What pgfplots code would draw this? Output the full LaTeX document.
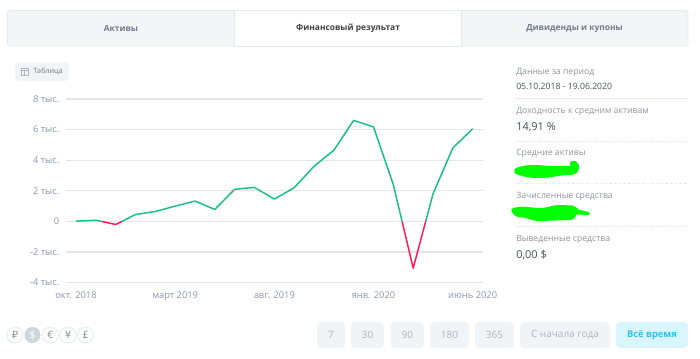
\documentclass[border=0pt]{standalone}
\usepackage{pgfplots}
\pgfplotsset{compat=1.18}
\usepackage{fontspec}
\setmainfont{Open Sans}
\newfontfamily\symfont{DejaVu Sans}
\definecolor{tabbg}{HTML}{F3F5F7}
\definecolor{tabline}{HTML}{E6E9EC}
\definecolor{tabtext}{HTML}{737C8A}
\definecolor{ticktext}{HTML}{8B97AB}
\definecolor{gridc}{HTML}{E4E6E9}
\definecolor{lineg}{HTML}{17BF85}
\definecolor{liner}{HTML}{FB1A54}
\definecolor{paneltext}{HTML}{8D949C}
\definecolor{valtext}{HTML}{4A4F55}
\definecolor{btnbg}{HTML}{F1F4F6}
\definecolor{btntext}{HTML}{AEB6BD}
\definecolor{activebg}{HTML}{D9F6FD}
\definecolor{activetext}{HTML}{2CC4EA}
\definecolor{scrib}{HTML}{00FF00}
\definecolor{curbg}{HTML}{CDD8DD}
\newcommand{\fs}[1]{\fontsize{#1}{#1}\selectfont}
\begin{document}
\begin{tikzpicture}[x=0.75pt,y=-0.75pt]
\path[use as bounding box] (0,0) rectangle (700,358);
% tabs
\fill[tabbg,rounded corners=2pt,draw=tabline,line width=0.6pt] (7.5,10.5) rectangle (688,46);
\fill[white,draw=tabline,line width=0.6pt] (234.5,10.5) rectangle (461,46);
\node[text=tabtext,font=\fs{6.3}\bfseries] at (121,28.5) {Активы};
\node[text=black!75,font=\fs{6.3}\bfseries] at (348,28.5) {Финансовый результат};
\node[text=tabtext,font=\fs{6.3}\bfseries] at (574.5,28.5) {Дивиденды и купоны};
% table button
\fill[btnbg,rounded corners=3pt] (15,62.5) rectangle (69,81);
\draw[ticktext!70,line width=0.4pt] (21,68) rectangle (28.5,75) (21,70.3)--(28.5,70.3) (24.7,70.3)--(24.7,75);
\node[text=tabtext,font=\fs{5.4}] at (48,71) {Таблица};
% chart
\begin{axis}[
  at={(49.5pt,-212pt)},anchor=south west,
  scale only axis,width=312.75pt,height=137.8pt,
  xmin=-0.504,xmax=20.52,ymin=-4,ymax=8,
  axis line style={draw=none},
  major tick length=0pt,
  ymajorgrids,
  grid style={gridc,line width=0.95pt},
  xtick={0,5,10,15,20},
  xticklabels={окт. 2018,март 2019,авг. 2019,янв. 2020,июнь 2020},
  ytick={-4,-2,0,2,4,6,8},
  yticklabels={-4 тыс.,-2 тыс.,0,2 тыс.,4 тыс.,6 тыс.,8 тыс.},
  tick label style={text=ticktext,font=\fs{7}},
  yticklabel style={anchor=east,xshift=-1.5pt},
  xticklabel style={yshift=-3pt},
  unbounded coords=jump,
  clip=false,
]
\addplot[lineg,line width=1.1pt,line join=round] coordinates {
 (0,0.02)(1,0.08)(1.29,0)
 (1.5,nan)
 (2.31,0)(3,0.45)(4,0.65)(5,1.0)(6,1.33)(7,0.78)(8,2.1)(9,2.22)(10,1.46)(11,2.2)(12,3.6)(13,4.65)(14,6.6)(15,6.17)(16,2.4)(16.44,0)
 (17,nan)
 (17.63,0)(18,1.8)(19,4.8)(20,6.05)};
\addplot[liner,line width=1.1pt,line join=round] coordinates {
 (1.29,0)(2,-0.2)(2.31,0)
 (5,nan)
 (16.44,0)(17,-3.05)(17.63,0)};
\end{axis}
% side panel
\tikzset{lab/.style={anchor=west,inner sep=0pt,text=paneltext,font=\fs{6.5}},
         val/.style={anchor=west,inner sep=0pt,text=valtext}}
\node[lab] at (516,72.5) {Данные за период};
\node[val,font=\fs{6.5}] at (516,86.5) {05.10.2018 - 19.06.2020};
\draw[tabline,line width=0.5pt] (516,98.5)--(688,98.5);
\node[lab] at (516,111.5) {Доходность к средним активам};
\node[val,font=\fs{8.2}] at (516,127.5) {14,91 \%};
\draw[tabline,line width=0.5pt,dash pattern=on 2pt off 1.5pt] (516,141)--(688,141);
\node[lab] at (516,153.5) {Средние активы};
\fill[scrib] (516,168) to[out=20,in=180] (555,166) to (570,166) to[out=60,in=200] (571,161) to[out=20,in=90] (577,163) to[out=0,in=90] (579,168) to[out=-90,in=0] (570,175) to[out=180,in=0] (540,178) to[out=180,in=-20] (516,174) to[out=160,in=-160] cycle;
\draw[tabline,line width=0.5pt,dash pattern=on 2pt off 1.5pt] (516,183.5)--(688,183.5);
\node[lab] at (516,196.5) {Зачисленные средства};
\fill[scrib] (512,208.5) to[out=20,in=180] (540,208) to[out=0,in=180] (560,205) to (572,205.5) to[out=0,in=170] (580,210) to (589,212) to[out=-30,in=30] (589,215) to (576,214.5) to[out=-90,in=0] (570,220) to (540,221) to[out=180,in=0] (518,217) to[out=180,in=-50] (512,212) to[out=130,in=-130] cycle;
\draw[tabline,line width=0.5pt,dash pattern=on 2pt off 1.5pt] (516,226)--(688,226);
\node[lab] at (516,239) {Выведенные средства};
\node[val,font=\fs{8.2}] at (516,255) {0,00 \$};
% currency
\foreach \cx/\sym in {15/₽,50.5/€,68/¥,85.5/£}{
  \draw[tabline,fill=white,line width=0.6pt] (\cx,335) circle[radius=6pt];
  \node[text=paneltext,font=\fs{7.5}\symfont] at (\cx,335) {\sym};
}
\fill[curbg] (32.5,335) circle[radius=6pt];
\node[text=white,font=\fs{7.5}\symfont] at (32.5,335) {\$};
% buttons
\foreach \a/\b/\t in {317/345/7,351/384/30,390.5/424/90,430/469/180,475/514/365,520/610/С начала года}{
  \fill[btnbg,rounded corners=3pt] (\a,322) rectangle (\b,348);
  \node[text=btntext,font=\fs{7.5}] at ({(\a+\b)/2},335) {\t};
}
\fill[activebg,rounded corners=3pt] (616,322) rectangle (688,348);
\node[text=activetext,font=\fs{7}\bfseries] at (652,335) {Всё время};
\end{tikzpicture}
\end{document}
